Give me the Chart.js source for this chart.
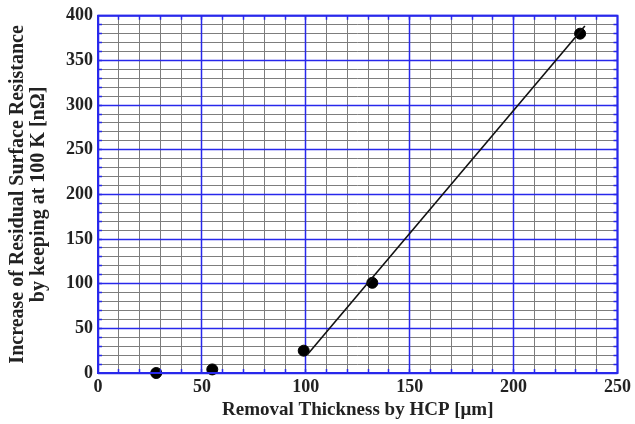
<!DOCTYPE html>
<html>
<head>
<meta charset="utf-8">
<script src="https://cdn.jsdelivr.net/npm/chart.js@4"></script>
<style>
  html, body { margin: 0; padding: 0; background: #fff; }
  #wrap { width: 635px; height: 424px; }
</style>
</head>
<body>
<div id="wrap"><canvas id="chart" width="635" height="424"></canvas></div>
<script>
// measured points
const thickness = [28, 55, 99, 132, 232];
const resistance = [0, 4, 25, 101, 380];

// fitted line (start / end)
const fitX = [100.8, 234.3];
const fitY = [20.8, 388.6];

const xTickLabels = [0, 50, 100, 150, 200, 250];
const yTickLabels = [0, 50, 100, 150, 200, 250, 300, 350, 400];

const BLUE = 'rgb(40, 40, 235)';
const GRAY = 'rgb(125, 125, 125)';
const TICK_FONT = { family: 'Liberation Serif', size: 18, weight: 'bold' };
const TITLE_FONT = { family: 'Liberation Serif', size: 20, weight: 'bold' };

// same snapping Chart.js uses for 1px grid lines
function snap(p) {
    return Math.round(p - 0.5) + 0.5;
}

// blue major grid over the gray minor grid, frame, inward ticks
const majorGridPlugin = {
    id: 'majorGrid',
    beforeDatasetsDraw(chart) {
        const ctx = chart.ctx;
        const a = chart.chartArea;
        const xs = chart.scales.x;
        const ys = chart.scales.y;
        ctx.save();
        ctx.strokeStyle = BLUE;
        ctx.lineWidth = 1.5;
        xTickLabels.forEach(v => {
            const px = snap(xs.getPixelForValue(v));
            ctx.beginPath();
            ctx.moveTo(px, a.top); ctx.lineTo(px, a.bottom);
            ctx.stroke();
        });
        yTickLabels.forEach(v => {
            const py = snap(ys.getPixelForValue(v));
            ctx.beginPath();
            ctx.moveTo(a.left, py); ctx.lineTo(a.right, py);
            ctx.stroke();
        });
        ctx.restore();
    },
    afterDatasetsDraw(chart) {
        const ctx = chart.ctx;
        const a = chart.chartArea;
        const xs = chart.scales.x;
        const ys = chart.scales.y;
        ctx.save();
        ctx.strokeStyle = BLUE;
        ctx.lineWidth = 1.5;
        for (let v = 10; v < 250; v += 10) {
            const px = snap(xs.getPixelForValue(v));
            ctx.beginPath();
            ctx.moveTo(px, a.bottom); ctx.lineTo(px, a.bottom - 4);
            ctx.moveTo(px, a.top); ctx.lineTo(px, a.top + 4);
            ctx.stroke();
        }
        for (let v = 10; v < 400; v += 10) {
            const py = snap(ys.getPixelForValue(v));
            ctx.beginPath();
            ctx.moveTo(a.left, py); ctx.lineTo(a.left + 4, py);
            ctx.moveTo(a.right, py); ctx.lineTo(a.right - 4, py);
            ctx.stroke();
        }
        ctx.lineWidth = 2;
        ctx.strokeRect(a.left, a.top, a.right - a.left, a.bottom - a.top);
        ctx.restore();
    }
};

new Chart(document.getElementById('chart'), {
    type: 'scatter',
    data: {
        datasets: [
            {
                label: 'fit',
                data: fitX.map((x, i) => ({ x: x, y: fitY[i] })),
                showLine: true,
                borderColor: '#111',
                borderWidth: 1.6,
                pointRadius: 0
            },
            {
                label: 'data',
                data: thickness.map((x, i) => ({ x: x, y: resistance[i] })),
                backgroundColor: '#000',
                borderColor: '#000',
                pointRadius: 5.5,
                clip: false
            }
        ]
    },
    options: {
        responsive: false,
        animation: false,
        layout: { padding: { left: 0, top: 12, right: 14, bottom: 0 } },
        plugins: { legend: { display: false }, tooltip: { enabled: false } },
        scales: {
            x: {
                type: 'linear',
                min: 0,
                max: 250,
                afterFit(scale) { scale.height = 51; },
                afterBuildTicks(scale) {
                    scale.ticks = [];
                    for (let v = 0; v <= 250; v += 10) scale.ticks.push({ value: v });
                },
                ticks: {
                    autoSkip: false,
                    maxRotation: 0,
                    padding: 4,
                    color: '#222',
                    font: TICK_FONT,
                    callback: v => xTickLabels.includes(v) ? String(v) : ''
                },
                grid: { color: GRAY, lineWidth: 1, drawTicks: false },
                border: { display: false },
                title: {
                    display: true,
                    text: 'Removal Thickness by HCP [\u03bcm]',
                    color: '#222',
                    font: Object.assign({}, TITLE_FONT, { size: 19 }),
                    padding: { top: 0, bottom: 3 }
                }
            },
            y: {
                type: 'linear',
                min: 0,
                max: 400,
                afterFit(scale) { scale.width = 98; },
                afterBuildTicks(scale) {
                    scale.ticks = [];
                    for (let v = 0; v <= 400; v += 10) scale.ticks.push({ value: v });
                },
                ticks: {
                    autoSkip: false,
                    padding: 5,
                    color: '#222',
                    font: TICK_FONT,
                    callback: v => yTickLabels.includes(v) ? String(v) : ''
                },
                grid: { color: GRAY, lineWidth: 1, drawTicks: false },
                border: { display: false },
                title: {
                    display: true,
                    text: ['Increase of Residual Surface Resistance', 'by keeping at 100 K [n\u03a9]'],
                    color: '#222',
                    font: Object.assign({ lineHeight: 1.05 }, TITLE_FONT),
                    padding: { top: 7, bottom: 0 }
                }
            }
        }
    },
    plugins: [majorGridPlugin]
});
</script>
</body>
</html>
